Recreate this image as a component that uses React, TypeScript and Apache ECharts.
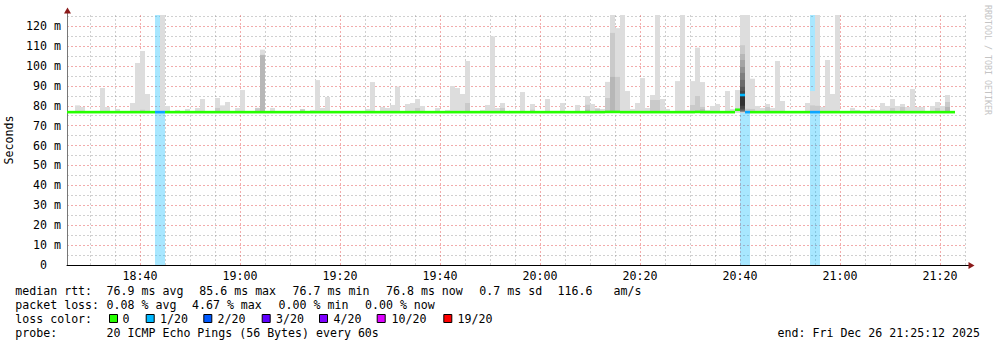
import React, { useEffect, useRef } from 'react';
import * as echarts from 'echarts';

const MONO = '"DejaVu Sans Mono", "Liberation Mono", monospace';
const FONT_SIZE = 11.6;

// time axis in minutes since midnight
const AXIS_START = 1105.4;
const AXIS_END = 1285.4;
const FIRST_STEP = 1105; // step k covers [FIRST_STEP + k, FIRST_STEP + k + 1]
const Y_MAX = 125.6;

const xTickLabels = ['18:40', '19:00', '19:20', '19:40', '20:00', '20:20', '20:40', '21:00', '21:20'];

// outer smoke (max ping) per minute, in ms
const smokeMax: (number | null)[] = [
  null, null, 80.2, 79.4, null, null, null, 88.9, 79.4, null,
  78.4, null, null, 81.4, 101.5, 107.5, 85.9, null, null, 130,
  79.9, null, 77.9, null, 78.4, null, 78.9, 83.4, null, null,
  83.9, 80.2, 81.9, null, 78.9, 87.9, null, null, 79.0, 108.2,
  null, 78.9, null, null, null, null, null, 78.4, null, 77.9,
  92.9, 78.9, 84.4, null, null, null, null, null, null, null,
  78.4, 91.9, null, 79.4, 78.9, 80.4, 89.6, null, 80.9, 81.4,
  83.4, 79.9, null, null, 78.9, null, 77.9, 89.9, 88.9, 85.9,
  102.5, null, null, 77.9, 80.4, 114.9, 78.9, 81.4, null, null,
  null, 86.9, null, 80.9, null, null, 83.4, null, null, 81.4,
  null, null, 80.4, null, 84.9, 80.9, 78.9, 78.4, 92.0, 130,
  119.0, 130, 87.4, 78.4, 81.4, 93.9, 78.9, 85.4, 130, 83.4,
  78.4, null, 92.4, 130, 77.9, 92.4, 109.2, 91.9, 77.9, 79.9,
  80.9, null, 87.4, 78.4, 87.9, 130, 130, 93.6, 79.9, 78.9,
  80.9, 78.9, 102.5, 82.4, null, null, null, null, 81.4, 87.4,
  130, 79.4, 103.0, 85.9, 130, null, null, 78.9, 77.9, null,
  null, 78.4, 77.9, 81.4, 79.9, 83.4, 79.9, 80.9, 79.4, 88.4,
  79.4, 79.4, null, 79.9, 81.9, 79.9, 85.4, null,
];
const SMOKE_LOW = 76.4;

// second smoke layer (2nd highest ping)
const inner2Steps = [15, 30, 38, 39, 47, 70, 80, 87, 93, 104, 106, 108, 109, 110, 117, 118, 125, 126, 127, 136, 137, 140, 149, 150, 165, 167, 174, 176];
const inner2Top = [78.0, 78.9, 78.8, 105.6, 78.2, 78.9, 81.4, 78.9, 78.0, 80.5, 78.4, 83.9, 116.6, 94.5, 82.9, 82.9, 80.4, 84.9, 79.4, 78.5, 78.4, 79.4, 80.2, 80.0, 78.9, 79.4, 78.9, 81.9];
// third smoke layer
const inner3Steps = [39, 104, 109, 127, 176];
const inner3Top = [105.4, 78.0, 94.5, 78.2, 79.4];

// the spread-out minute with many visible layers (layers 2..10)
const SPIKE_STEP = 135;
const spikeTop = [110.4, 106.0, 103.0, 99.5, 96.5, 93.0, 89.5, 87.5, 86.0];
const spikeLow = [76.7, 76.8, 76.9, 77.0, 77.2, 77.4, 77.8, 78.5, 80.0];

// median rtt per minute (ms)
const medianRtt: number[] = [
  76.8, 76.8, 76.8, 76.8, 76.8, 76.8, 76.8, 76.8, 76.8, 76.8,
  76.8, 76.8, 76.8, 76.8, 76.8, 76.8, 76.8, 76.8, 76.8, 76.8,
  76.8, 76.8, 76.8, 76.8, 76.8, 76.8, 76.8, 76.8, 76.8, 76.8,
  76.8, 76.8, 76.8, 76.8, 76.8, 76.8, 76.8, 76.8, 76.8, 76.8,
  76.8, 76.8, 76.8, 76.8, 76.8, 76.8, 76.8, 76.8, 76.8, 76.8,
  76.8, 76.8, 76.8, 76.8, 76.8, 76.8, 76.8, 76.8, 76.8, 76.8,
  76.8, 76.8, 76.8, 76.8, 76.8, 76.8, 76.8, 76.8, 76.8, 76.8,
  76.8, 76.8, 76.8, 76.8, 76.8, 76.8, 76.8, 76.8, 76.8, 76.8,
  76.8, 76.8, 76.8, 76.8, 76.8, 76.8, 76.8, 76.8, 76.8, 76.8,
  76.8, 76.8, 76.8, 76.8, 76.8, 76.8, 76.8, 76.8, 76.8, 76.8,
  76.8, 76.8, 76.8, 76.8, 76.8, 76.8, 76.8, 76.8, 76.9, 76.9,
  76.9, 76.8, 76.8, 76.8, 76.8, 76.8, 76.8, 76.8, 76.8, 76.8,
  76.8, 76.8, 76.8, 76.8, 76.8, 76.8, 76.9, 76.8, 76.8, 76.8,
  76.8, 76.8, 76.8, 76.8, 78.0, 85.4, 76.8, 76.8, 76.8, 76.8,
  76.8, 76.8, 76.8, 76.8, 76.8, 76.8, 76.8, 76.8, 76.8, 76.8,
  76.8, 76.8, 76.8, 76.8, 76.8, 76.8, 76.8, 76.8, 76.8, 76.8,
  76.8, 76.8, 76.8, 76.8, 76.8, 76.8, 76.8, 76.8, 76.8, 76.8,
  76.8, 76.8, 76.8, 76.8, 76.8, 76.8, 76.8, 76.8,
];
// minutes with 1/20 packet loss
const lossSteps = [18, 19, 135, 136, 149, 150];

// legend
const lossLabels = ['0', '1/20', '2/20', '3/20', '4/20', '10/20', '19/20'];
const lossColors = ['#26ff00', '#00b8ff', '#0059ff', '#5e00ff', '#7e00ff', '#dd00ff', '#ff0000'];
const rttTexts = ['median rtt:', '76.9 ms avg', '85.6 ms max', '76.7 ms min', '76.8 ms now', '0.7 ms sd', '116.6', 'am/s'];
const lossTexts = ['packet loss:', '0.08 % avg', '4.67 % max', '0.00 % min', '0.00 % now'];
const probeTexts = ['probe:', '20 ICMP Echo Pings (56 Bytes) every 60s'];
const endText = 'end: Fri Dec 26 21:25:12 2025';
const watermark = 'RRDTOOL / TOBI OETIKER';

// layout (pixels)
const rttX = [15.3, 106.6, 199.3, 292.6, 386, 479.3, 557.6, 613.6];
const lossX = [15.3, 106.6, 192, 278.6, 365];
const legendSquareX = [109, 145.7, 203.3, 261.7, 319, 376.7, 443.3];
const legendLabelX = [122.6, 160, 217.6, 276, 333.6, 391.6, 457.6];
const probeX = [15.3, 106.6];
const LINE_Y = [291, 305, 319, 333];

const layerColors = ['#dddddd', '#cacaca', '#b7b7b7', '#a4a4a4', '#919191', '#7e7e7e', '#6b6b6b', '#585858', '#454545', '#323232'];
const LOSS_LINE = '#0aa6ff';
const MAJOR_GRID = 'rgba(222,48,48,0.4)';
const MINOR_GRID = 'rgba(143,143,143,0.42)';

function toMinutes(s: string) {
  const [h, m] = s.split(':').map(Number);
  return h * 60 + m;
}
function fmtTime(v: number) {
  const h = Math.floor(v / 60);
  const m = Math.round(v - h * 60);
  return `${String(h).padStart(2, '0')}:${String(m).padStart(2, '0')}`;
}

function buildOption() {
  const xTickValues = xTickLabels.map(toMinutes);

  // vertical grid lines every 5 minutes inside the axis range
  const gridData: number[][] = [];
  for (let m = Math.ceil(AXIS_START / 5) * 5; m <= AXIS_END; m += 5) {
    gridData.push([m, m % 20 === 0 ? 1 : 0]);
  }

  const bandData = lossSteps.map((k) => [FIRST_STEP + k, FIRST_STEP + k + 1]);

  const smokeData: number[][] = [];
  smokeMax.forEach((top, k) => {
    if (top == null) return;
    smokeData.push([FIRST_STEP + k, FIRST_STEP + k + 1, SMOKE_LOW, top, 0]);
  });
  inner2Steps.forEach((k, i) => smokeData.push([FIRST_STEP + k, FIRST_STEP + k + 1, SMOKE_LOW, inner2Top[i], 1]));
  inner3Steps.forEach((k, i) => smokeData.push([FIRST_STEP + k, FIRST_STEP + k + 1, SMOKE_LOW, inner3Top[i], 2]));
  spikeTop.forEach((top, i) =>
    smokeData.push([FIRST_STEP + SPIKE_STEP, FIRST_STEP + SPIKE_STEP + 1, spikeLow[i], top, i + 1])
  );
  smokeData.sort((a, b) => a[4] - b[4]);

  const medianData = medianRtt.map((v, k) => [FIRST_STEP + k, FIRST_STEP + k + 1, v, lossSteps.includes(k) ? 1 : 0]);

  const clipRect = (params: any, x0: number, y0: number, x1: number, y1: number) => {
    const cs = params.coordSys;
    return echarts.graphic.clipRectByRect(
      { x: Math.min(x0, x1), y: Math.min(y0, y1), width: Math.abs(x1 - x0), height: Math.abs(y1 - y0) },
      { x: cs.x, y: cs.y, width: cs.width, height: cs.height }
    );
  };
  const empty = { type: 'group', children: [] };

  const graphics: any[] = [];
  const text = (t: string, x: number, y: number, extra: any = {}) => ({
    type: 'text',
    x,
    y,
    silent: true,
    style: { text: t, fontFamily: MONO, fontSize: FONT_SIZE, fill: '#000', align: 'left', verticalAlign: 'middle', ...extra },
  });
  rttTexts.forEach((t, i) => graphics.push(text(t, rttX[i], LINE_Y[0])));
  lossTexts.forEach((t, i) => graphics.push(text(t, lossX[i], LINE_Y[1])));
  graphics.push(text('loss color:', 15.3, LINE_Y[2]));
  lossLabels.forEach((t, i) => {
    graphics.push({
      type: 'rect',
      silent: true,
      shape: { x: legendSquareX[i] + 0.5, y: LINE_Y[2] - 4.5, width: 8, height: 8 },
      style: { fill: lossColors[i], stroke: '#000', lineWidth: 1 },
    });
    graphics.push(text(t, legendLabelX[i], LINE_Y[2]));
  });
  probeTexts.forEach((t, i) => graphics.push(text(t, probeX[i], LINE_Y[3])));
  graphics.push(text(endText, 980, LINE_Y[3], { align: 'right' }));
  graphics.push({
    type: 'text',
    x: 987.5,
    y: 5,
    rotation: -Math.PI / 2,
    silent: true,
    style: { text: watermark, fontFamily: MONO, fontSize: 8.3, fill: '#c4c4c4', align: 'left', verticalAlign: 'middle' },
  });
  // axis extensions and arrows
  graphics.push({ type: 'line', silent: true, shape: { x1: 67.5, y1: 15, x2: 67.5, y2: 12 }, style: { stroke: '#777', lineWidth: 1 } });
  graphics.push({ type: 'line', silent: true, shape: { x1: 966, y1: 265.5, x2: 970, y2: 265.5 }, style: { stroke: '#000', lineWidth: 1 } });
  graphics.push({ type: 'polygon', silent: true, shape: { points: [[64, 13.5], [71, 13.5], [67.5, 7.5]] }, style: { fill: '#8b1a1a' } });
  graphics.push({ type: 'polygon', silent: true, shape: { points: [[968.5, 262], [968.5, 269], [974.5, 265.5]] }, style: { fill: '#8b1a1a' } });

  return {
    animation: false,
    backgroundColor: '#ffffff',
    grid: { left: 67, right: 30, top: 15, bottom: 82, containLabel: false, outerBoundsMode: 'none' },
    xAxis: {
      type: 'value',
      min: AXIS_START,
      max: AXIS_END,
      axisLine: { show: true, lineStyle: { color: '#000', width: 1 } },
      axisTick: { show: false },
      splitLine: { show: false },
      axisLabel: {
        customValues: xTickValues,
        formatter: (v: number) => fmtTime(v),
        fontFamily: MONO,
        fontSize: FONT_SIZE,
        color: '#000',
        margin: 5,
      },
    },
    yAxis: {
      type: 'value',
      min: 0,
      max: Y_MAX,
      interval: 5,
      name: 'Seconds',
      nameLocation: 'middle',
      nameGap: 51,
      nameRotate: 90,
      nameTextStyle: { fontFamily: MONO, fontSize: FONT_SIZE, color: '#000' },
      axisLine: { show: true, lineStyle: { color: '#777', width: 1 } },
      axisTick: { show: false },
      axisLabel: {
        fontFamily: MONO,
        fontSize: FONT_SIZE,
        color: '#000',
        margin: 6,
        formatter: (v: number) => {
          if (v === 0) return '{z|0}';
          if (Math.abs(v % 10) < 1e-6) return `${v} m`;
          return '';
        },
        rich: { z: { fontFamily: MONO, fontSize: FONT_SIZE, color: '#000', padding: [0, 14, 0, 0] } },
      },
      splitLine: {
        show: true,
        showMaxLine: false,
        lineStyle: { color: [MAJOR_GRID, MINOR_GRID], type: [2, 2], width: 1 },
      },
    },
    graphic: graphics,
    series: [
      {
        type: 'custom',
        name: 'vgrid',
        silent: true,
        z: 1,
        data: gridData,
        renderItem: (params: any, api: any) => {
          const cs = params.coordSys;
          const x = Math.round(api.coord([api.value(0), 0])[0]) + 0.5;
          return {
            type: 'line',
            shape: { x1: x, y1: cs.y, x2: x, y2: cs.y + cs.height },
            style: {
              stroke: api.value(1) === 1 ? MAJOR_GRID : MINOR_GRID,
              lineWidth: 1,
              lineDash: [2, 2],
            },
          };
        },
      },
      {
        type: 'custom',
        name: 'loss',
        silent: true,
        z: 2,
        data: bandData,
        renderItem: (params: any, api: any) => {
          const cs = params.coordSys;
          const x0 = api.coord([api.value(0), 0])[0];
          const x1 = api.coord([api.value(1), 0])[0];
          const r = clipRect(params, x0, cs.y, x1, cs.y + cs.height);
          if (!r) return empty;
          return { type: 'rect', shape: r, style: { fill: 'rgba(0,184,255,0.34)' } };
        },
      },
      {
        type: 'custom',
        name: 'smoke',
        silent: true,
        z: 3,
        data: smokeData,
        renderItem: (params: any, api: any) => {
          const p0 = api.coord([api.value(0), api.value(3)]);
          const p1 = api.coord([api.value(1), api.value(2)]);
          const r = clipRect(params, p0[0], p0[1], p1[0], p1[1]);
          if (!r) return empty;
          return { type: 'rect', shape: r, style: { fill: layerColors[api.value(4)] } };
        },
      },
      {
        type: 'custom',
        name: 'median rtt',
        silent: true,
        z: 4,
        data: medianData,
        renderItem: (params: any, api: any) => {
          const cs = params.coordSys;
          const p0 = api.coord([api.value(0), api.value(2)]);
          const p1 = api.coord([api.value(1), api.value(2)]);
          const x0 = Math.max(p0[0], cs.x);
          const x1 = Math.min(p1[0], cs.x + cs.width);
          if (x1 <= x0) return empty;
          const k = api.value(0) - FIRST_STEP;
          const color = api.value(3) === 1 ? (k === SPIKE_STEP ? lossColors[1] : LOSS_LINE) : lossColors[0];
          return {
            type: 'line',
            shape: { x1: x0, y1: p0[1], x2: x1, y2: p1[1] },
            style: { stroke: color, lineWidth: 2.6, lineCap: 'butt' },
          };
        },
      },
    ],
  };
}

export default function App() {
  const ref = useRef<HTMLDivElement>(null);
  useEffect(() => {
    if (!ref.current) return;
    const chart = echarts.init(ref.current, null, { renderer: 'svg' });
    chart.setOption(buildOption() as any);
    return () => chart.dispose();
  }, []);
  return (
    <div
      ref={ref}
      style={{ position: 'absolute', left: 0, top: 0, width: 997, height: 347, background: '#fff' }}
    />
  );
}
